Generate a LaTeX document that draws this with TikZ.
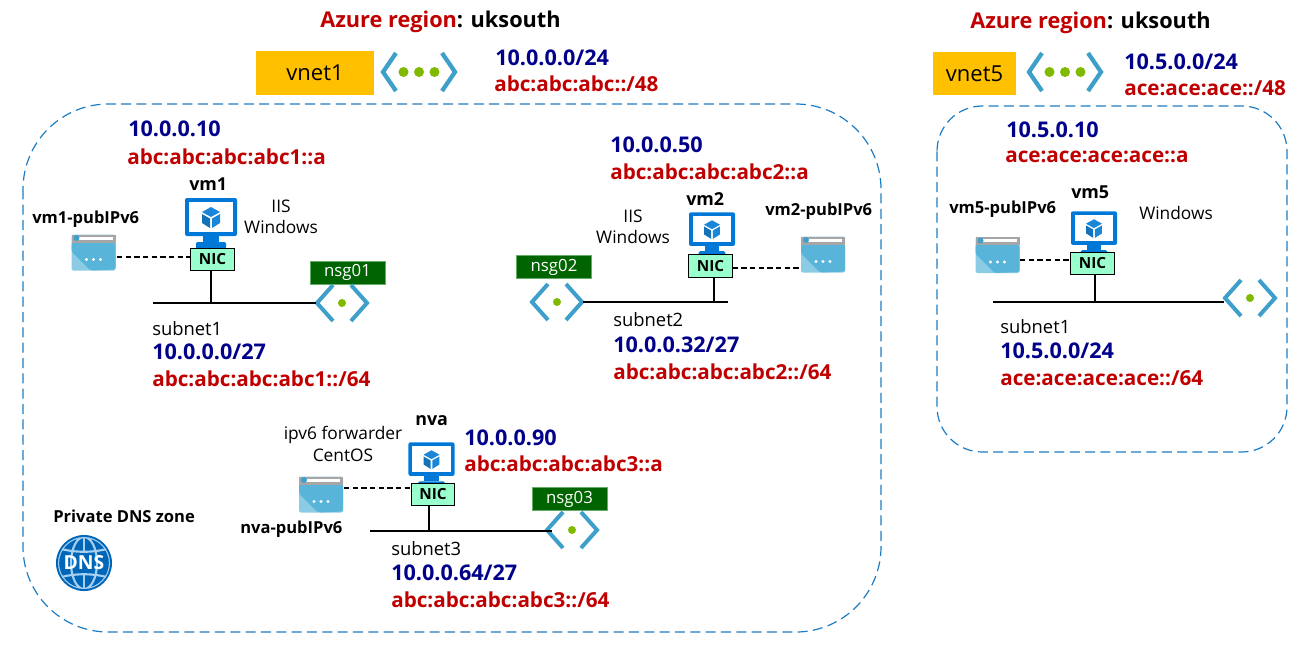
\documentclass[tikz,border=0pt]{standalone}
\usepackage{fontspec}
\setmainfont{Open Sans}
\definecolor{navyt}{HTML}{00008B}
\definecolor{redt}{HTML}{C00000}
\definecolor{azline}{HTML}{1C7CC4}
\definecolor{azblue}{HTML}{0078D7}
\definecolor{cubeb}{HTML}{1A86D8}
\definecolor{chev}{HTML}{3F9FCB}
\definecolor{dotg}{HTML}{7FBA00}
\definecolor{nicg}{HTML}{99FFCC}
\definecolor{nsgg}{HTML}{006400}
\definecolor{vnety}{HTML}{FFC000}
\definecolor{pipl}{HTML}{8CCBE4}
\definecolor{pipd}{HTML}{59B4D9}
\tikzset{
  t/.style={inner sep=0pt,anchor=west,align=center},
  ipv4/.style={t,font=\fontsize{16.2}{18}\selectfont\bfseries,text=navyt},
  ipv6/.style={t,font=\fontsize{15.5}{18}\selectfont\bfseries,text=redt},
  hd/.style={t,font=\fontsize{16.3}{18}\selectfont\bfseries},
  nm/.style={t,font=\fontsize{12.4}{14}\selectfont\bfseries},
  nmb/.style={t,font=\fontsize{13.4}{14}\selectfont\bfseries},
  plain/.style={t,font=\fontsize{13}{16}\selectfont},
  sub/.style={t,font=\fontsize{13.8}{15}\selectfont},
  nic/.style={draw=black,line width=0.8pt,fill=nicg,inner sep=0pt,minimum width=32.5pt,minimum height=17pt,font=\fontsize{11.5}{12}\selectfont\bfseries},
  nsglab/.style={fill=nsgg,text=white,draw=green!45!black!60,line width=.3pt,inner sep=0pt,minimum width=56pt,minimum height=17pt,font=\fontsize{12.6}{13}\selectfont},
  vnetlab/.style={fill=vnety,inner sep=0pt,minimum height=32.5pt,font=\fontsize{16.5}{18}\selectfont},
  region/.style={draw=azline,line width=0.9pt,dash pattern=on 7.5pt off 4pt},
  wire/.style={black,line width=0.8pt},
  dashw/.style={black,line width=0.8pt,dash pattern=on 4pt off 2.5pt},
  anchorbox/.style={inner sep=0pt,minimum size=1pt},
  vm/.pic={
    \fill[azblue,rounded corners=1.5pt] (-26,-20) rectangle (26,18);
    \fill[white] (-22,-16) rectangle (22,14);
    \fill[azblue] (-8,18) rectangle (8,24);
    \fill[azblue,rounded corners=1pt] (-15,24) rectangle (15,31);
    \fill[cubeb] (0,-11) -- (9,-6) -- (0,-1) -- (-9,-6) -- cycle;
    \fill[cubeb!85!black] (-9,-4) -- (-1,0.5) -- (-1,10) -- (-9,5) -- cycle;
    \fill[cubeb] (9,-4) -- (1,0.5) -- (1,10) -- (9,5) -- cycle;
  },
  pubip/.pic={
    \fill[rounded corners=1.5pt,fill=pipl] (-22,-18) rectangle (22,18);
    \fill[rounded corners=1.5pt,fill=pipd] (22,-10) -- (22,17) -- (-3,18) -- (-22,-1) -- (-22,-10) -- (6,-10) -- cycle;
    \fill[black!35] (-22,-18) rectangle (22,-10);
    \fill[white] (-16,-16) rectangle (19,-13);
    \fill[chev] (-17,-14.5) circle (3);
    \foreach \dx in {-7,0,7} \fill[white] (\dx,7) circle (1.7);
  },
  nsgic/.pic={
    \draw[chev,line width=3pt] (-9,-18) -- (-25,0) -- (-9,18);
    \draw[chev,line width=3pt] (9,-18) -- (25,0) -- (9,18);
    \fill[dotg] (0,0) circle (4);
  },
  vnetic/.pic={
    \draw[chev,line width=3.2pt] (-23,-19) -- (-36,0) -- (-23,19);
    \draw[chev,line width=3.2pt] (23,-19) -- (36,0) -- (23,19);
    \foreach \dx in {-15.5,0,15.5} \fill[dotg] (\dx,0) circle (5);
  },
  dnsic/.pic={
    \fill[azblue!85!black] (0,0) circle (28);
    \begin{scope}
    \clip (0,0) circle (26);
    \draw[white!65!azblue,line width=1.6pt] (0,0) ellipse (13 and 26) (0,0) ellipse (26 and 26);
    \draw[white!65!azblue,line width=1.6pt] (-26,-15) .. controls (-10,-10) and (10,-10) .. (26,-15);
    \draw[white!65!azblue,line width=1.6pt] (-26,15) .. controls (-10,10) and (10,10) .. (26,15);
    \draw[white!65!azblue,line width=1.6pt] (0,-26) -- (0,-11) (0,11) -- (0,26);
    \end{scope}
    \node[inner sep=0pt,text=white,font=\fontsize{14.5}{15}\selectfont\bfseries] {DNS};
  }
}
\begin{document}
\begin{tikzpicture}[x=0.75pt,y=-0.75pt]
\useasboundingbox (0,0) rectangle (1301,647);
% regions
\draw[region,rounded corners=64pt] (23,104) rectangle (881,632);
\draw[region,rounded corners=34pt] (937,106) rectangle (1287,452);
% headings
\node[hd] at (320,22) {\textcolor{redt}{Azure region}: uksouth};
\node[hd] at (970,23) {\textcolor{redt}{Azure region}: uksouth};
% vnets
\node[vnetlab,minimum width=88.5pt] (vnet1) at (315,73) {vnet1};
\pic at (419,72) {vnetic};
\node[ipv4] at (495,58) {10.0.0.0/24};
\node[ipv6] at (494,84) {abc:abc:abc::/48};
\node[vnetlab,minimum width=62pt] (vnet5) at (974.5,73.5) {vnet5};
\pic at (1065,72) {vnetic};
\node[ipv4] at (1124,62) {10.5.0.0/24};
\node[ipv6] at (1124,88) {ace:ace:ace::/48};
% vm1
\node[ipv4] at (128,129) {10.0.0.10};
\node[ipv6] at (127,157) {abc:abc:abc:abc1::a};
\node[nmb] at (189,184) {vm1};
\pic at (211,218) {vm};
\node[plain,anchor=center] at (281,217) {IIS\\Windows};
\node[nm] at (32,219) {vm1-pubIPv6};
\pic at (93.5,252.5) {pubip};
\node[anchorbox] (pip1) at (116,257) {};
\node[nic] (nic1) at (212.5,259.5) {NIC};
\node[nsglab] (nsg1) at (347.5,272.5) {nsg01};
\pic (n1) at (342,303) {nsgic};
\coordinate (s1a) at (153,303);
\coordinate (s1b) at (316,303);
\draw[wire] (s1a) -- (s1b);
\draw[wire] (nic1.south -| 211,0) -- (211,303);
\draw[dashw] (pip1) -- (pip1 -| nic1.west);
\node[sub] at (152,329) {subnet1};
\node[ipv4] at (152,352) {10.0.0.0/27};
\node[ipv6] at (152,379) {abc:abc:abc:abc1::/64};
% vm2
\node[ipv4] at (610,145) {10.0.0.50};
\node[ipv6] at (610,172) {abc:abc:abc:abc2::a};
\node[nmb] at (686,199) {vm2};
\pic[scale=0.885] at (712,230) {vm};
\node[plain,anchor=center] at (633,227) {IIS\\Windows};
\node[nm] at (765,211) {vm2-pubIPv6};
\pic at (823,254.5) {pubip};
\node[anchorbox] (pip2) at (801,268) {};
\node[nic] (nic2) at (710.5,266) {NIC};
\node[nsglab] (nsg2) at (554,267) {nsg02};
\pic at (557,302) {nsgic};
\coordinate (s2a) at (583,302);
\coordinate (s2b) at (728,302);
\draw[wire] (s2a) -- (s2b);
\draw[wire] (nic2.south -| 714,0) -- (714,302);
\draw[dashw] (nic2.east |- pip2) -- (pip2);
\node[sub] at (613,320) {subnet2};
\node[ipv4] at (613,345) {10.0.0.32/27};
\node[ipv6] at (613,372) {abc:abc:abc:abc2::/64};
% nva
\node[plain,anchor=center] at (343,444) {ipv6 forwarder\\CentOS};
\node[nmb] at (415,421) {nva};
\pic[scale=0.885] at (431.5,460) {vm};
\node[ipv4] at (464,438) {10.0.0.90};
\node[ipv6] at (464,464) {abc:abc:abc:abc3::a};
\pic at (321,494.5) {pubip};
\node[nm] at (240,529) {nva-pubIPv6};
\node[anchorbox] (pip3) at (343,488) {};
\node[nic] (nic3) at (433,494.5) {NIC};
\node[nsglab] (nsg3) at (569.5,499) {nsg03};
\pic at (572,530) {nsgic};
\coordinate (s3a) at (370,531);
\coordinate (s3b) at (552,531);
\draw[wire] (s3a) -- (s3b);
\draw[wire] (nic3.south -| 429,0) -- (429,531);
\draw[dashw] (pip3) -- (pip3 -| nic3.west);
\node[sub] at (391,549) {subnet3};
\node[ipv4] at (391,573) {10.0.0.64/27};
\node[ipv6] at (391,600) {abc:abc:abc:abc3::/64};
% dns
\node[nm] at (53,516) {Private DNS zone};
\pic at (84,563) {dnsic};
% vm5
\node[ipv4] at (1006,130) {10.5.0.10};
\node[ipv6] at (1005,157) {ace:ace:ace:ace::a};
\node[nmb] at (1071,192) {vm5};
\pic[scale=0.885] at (1094,229) {vm};
\node[plain] at (1139,213) {Windows};
\node[nm] at (949,209) {vm5-pubIPv6};
\pic at (997.5,255) {pubip};
\node[anchorbox] (pip5) at (1019,260) {};
\node[nic] (nic5) at (1092.5,263.5) {NIC};
\pic at (1250,298) {nsgic};
\coordinate (s5a) at (993,302);
\coordinate (s5b) at (1224,302);
\draw[wire] (s5a) -- (s5b);
\draw[wire] (nic5.south -| 1095,0) -- (1095,302);
\draw[dashw] (pip5) -- (pip5 -| nic5.west);
\node[sub] at (1000,327) {subnet1};
\node[ipv4] at (1000,351) {10.5.0.0/24};
\node[ipv6] at (1000,378) {ace:ace:ace:ace::/64};
\end{tikzpicture}
\end{document}
